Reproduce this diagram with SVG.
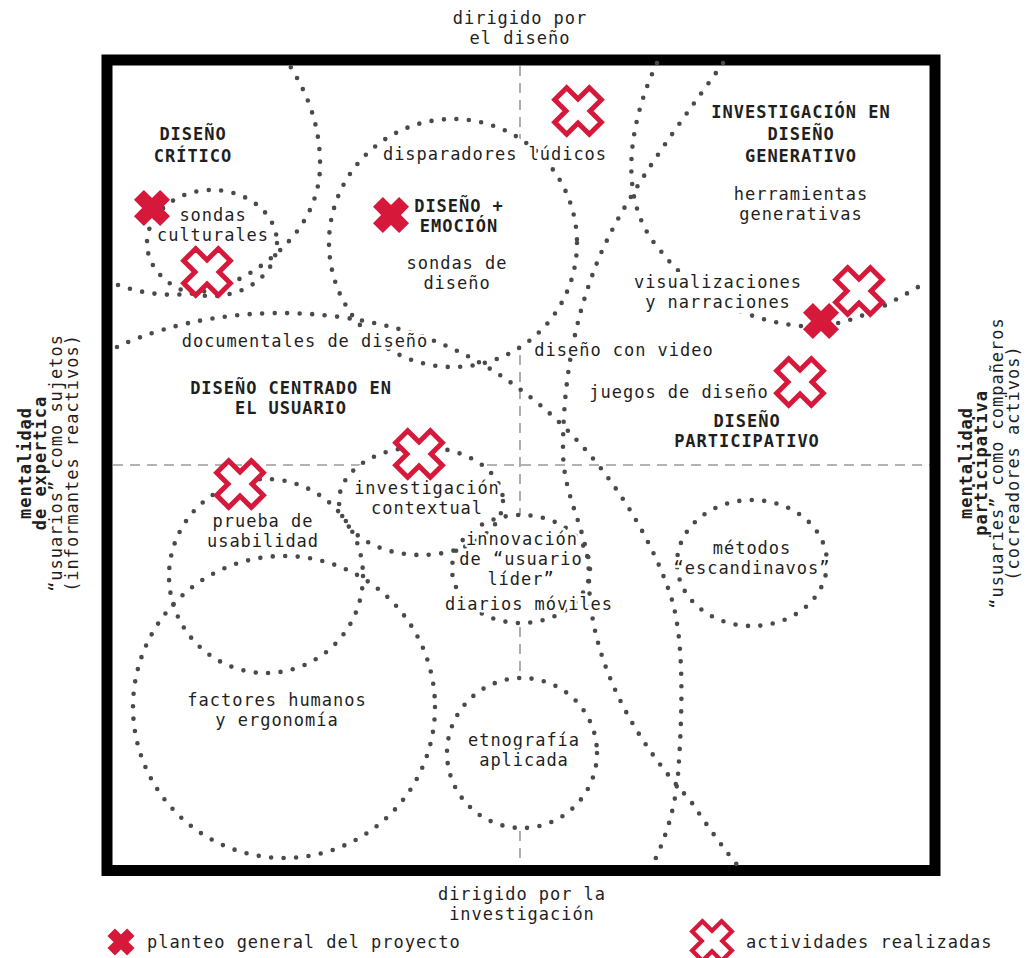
<svg xmlns="http://www.w3.org/2000/svg" width="1034" height="958" viewBox="0 0 1034 958">
<style>
text { font-family: "DejaVu Sans Mono", "Liberation Mono", monospace; font-size: 17px; letter-spacing: 0.97px; fill: #1f1f1f; text-anchor: middle; }
.b { font-weight: bold; }
.st { text-anchor: start; }
.h { paint-order: stroke; stroke: #fff; stroke-width: 5px; stroke-linejoin: round; }
.dot { fill: none; stroke: #4a4a4a; stroke-width: 4.6; stroke-linecap: round; stroke-dasharray: 0 12.5; }
.wf { fill: #fff; stroke: none; }
.axis { stroke: #9a9a9a; stroke-width: 1.6; stroke-dasharray: 10 7; fill: none; }
.xf { fill: #d6193b; }
.xo { fill: #fff; stroke: #d6193b; stroke-width: 5; }
</style>
<defs>
<path id="xs" class="xf" d="M-7,-18.5H7V-7H18.5V7H7V18.5H-7V7H-18.5V-7H-7Z" transform="rotate(45)"/>
<path id="xo" class="xo" d="M-8.5,-24.5H8.5V-8.5H24.5V8.5H8.5V24.5H-8.5V8.5H-24.5V-8.5H-8.5Z" transform="rotate(45)"/>
</defs>

<rect x="0" y="0" width="1034" height="958" fill="#fff"/>

<g id="axes">
<line class="axis" x1="520" y1="66" x2="520" y2="865"/>
<line class="axis" x1="113" y1="465" x2="930" y2="465"/>
</g>

<g id="circle-fills">
<ellipse class="wf" cx="212" cy="243" rx="65" ry="53"/>
<circle class="wf" cx="453" cy="243" r="124"/>
<ellipse class="wf" cx="421" cy="501" rx="82" ry="54"/>
<circle class="wf" cx="266" cy="576" r="97"/>
<circle class="wf" cx="284" cy="707" r="151"/>
<ellipse class="wf" cx="521" cy="569" rx="69" ry="54"/>
<circle class="wf" cx="522" cy="753" r="75"/>
<ellipse class="wf" cx="752" cy="563" rx="75" ry="63"/>
</g>

<rect id="frame" x="107" y="60" width="828" height="810.5" fill="none" stroke="#000" stroke-width="11"/>

<g id="connectors">
<path id="curve-critico" class="dot" d="M118,285 C160,300 205,298 245,276 C290,250 322,210 320,160 C319,120 305,90 290,66"/>
<path id="curve-documentales" class="dot" d="M117,347 C170,322 250,305 340,317 C420,328 480,355 540,405 C600,455 650,530 672,600 C685,645 682,720 678,775 C675,810 665,840 652,866"/>
<path id="curve-participativo" class="dot" d="M723,63 C690,110 620,200 595,268 C575,320 563,380 563,450 C563,500 589,530 589,578 C589,650 625,730 690,800 C710,830 725,850 738,866"/>
<path id="curve-generativo" class="dot" d="M657,63 C630,120 615,200 660,250 C690,290 740,320 800,326 C850,330 895,300 925,283"/>
</g>

<g id="n-top-label">
<text x="520" y="24">dirigido por</text>
<text x="520" y="44">el diseño</text>
</g>
<g id="n-bottom-label">
<text x="522" y="900">dirigido por la</text>
<text x="522" y="920">investigación</text>
</g>
<g id="n-left-label" transform="translate(0,463) rotate(-90)">
<text class="b" x="0" y="31">mentalidad</text>
<text class="b" x="0" y="46">de expertica</text>
<text x="0" y="62">“usuarios” como sujetos</text>
<text x="0" y="78">(informantes reactivos)</text>
</g>
<g id="n-right-label" transform="translate(0,463) rotate(-90)">
<text class="b" x="0" y="972">mentalidad</text>
<text class="b" x="0" y="987">participativa</text>
<text x="0" y="1003">“usuaries” como compañeros</text>
<text x="0" y="1019">(cocreadores activos)</text>
</g>

<g id="n-diseno-critico">
<text class="b h" x="193" y="140">DISEÑO</text>
<text class="b h" x="193" y="162">CRÍTICO</text>
</g>
<g id="n-sondas-culturales">
<ellipse class="dot" cx="212" cy="243" rx="65" ry="53"/>
<text class="h" x="213" y="221">sondas</text>
<text class="h" x="213" y="241">culturales</text>
</g>
<g id="n-diseno-emocion">
<circle class="dot" cx="453" cy="243" r="124"/>
<text class="b h" x="459" y="212">DISEÑO +</text>
<text class="b h" x="459" y="232">EMOCIÓN</text>
<text class="h" x="457" y="269">sondas de</text>
<text class="h" x="457" y="289">diseño</text>
</g>
<g id="n-disparadores">
<text class="h" x="495" y="160">disparadores lúdicos</text>
</g>
<g id="n-generativo">
<text class="b h" x="801" y="118">INVESTIGACIÓN EN</text>
<text class="b h" x="801" y="140">DISEÑO</text>
<text class="b h" x="801" y="162">GENERATIVO</text>
<text class="h" x="801" y="200">herramientas</text>
<text class="h" x="801" y="220">generativas</text>
</g>
<g id="n-visualizaciones">
<rect x="632" y="272" width="174" height="41" fill="#fff"/>
<text class="h" x="718" y="288">visualizaciones</text>
<text class="h" x="718" y="308">y narraciones</text>
</g>
<g id="n-documentales">
<text class="h" x="305" y="347">documentales de diseño</text>
</g>
<g id="n-video">
<text class="h" x="624" y="356">diseño con video</text>
</g>
<g id="n-dcu">
<text class="b h" x="291" y="394">DISEÑO CENTRADO EN</text>
<text class="b h" x="291" y="414">EL USUARIO</text>
</g>
<g id="n-juegos">
<text class="h" x="679" y="398">juegos de diseño</text>
</g>
<g id="n-participativo">
<text class="b h" x="747" y="427">DISEÑO</text>
<text class="b h" x="747" y="447">PARTICIPATIVO</text>
</g>
<g id="n-contextual">
<ellipse class="dot" cx="421" cy="501" rx="82" ry="54"/>
<text class="h" x="427" y="494">investigación</text>
<text class="h" x="427" y="514">contextual</text>
</g>
<g id="n-prueba">
<circle class="dot" cx="266" cy="576" r="97"/>
<text class="h" x="263" y="527">prueba de</text>
<text class="h" x="263" y="547">usabilidad</text>
</g>
<g id="n-innovacion">
<ellipse class="dot" cx="521" cy="569" rx="69" ry="54"/>
<text class="h" x="522" y="545">innovación</text>
<text class="h" x="521" y="565">de “usuario</text>
<text class="h" x="521" y="585">líder”</text>
<text class="h" x="529" y="610">diarios móviles</text>
</g>
<g id="n-escandinavos">
<ellipse class="dot" cx="752" cy="563" rx="75" ry="63"/>
<text class="h" x="752" y="554">métodos</text>
<text class="h" x="752" y="574">“escandinavos”</text>
</g>
<g id="n-factores">
<circle class="dot" cx="284" cy="707" r="151"/>
<text class="h" x="277" y="706">factores humanos</text>
<text class="h" x="277" y="726">y ergonomía</text>
</g>
<g id="n-etnografia">
<circle class="dot" cx="522" cy="753" r="75"/>
<text class="h" x="524" y="746">etnografía</text>
<text class="h" x="524" y="766">aplicada</text>
</g>

<g id="marks-planteo">
<use href="#xs" x="152" y="208"/>
<use href="#xs" x="391" y="215"/>
<use href="#xs" x="821" y="321"/>
</g>
<g id="marks-actividades">
<use href="#xo" x="578" y="111"/>
<use href="#xo" x="207" y="272"/>
<use href="#xo" x="859" y="291"/>
<use href="#xo" x="800" y="382"/>
<use href="#xo" x="419" y="454"/>
<use href="#xo" x="240" y="484"/>
</g>

<g id="legend-planteo">
<use href="#xs" transform="translate(121,942) scale(0.75)"/>
<text class="st" x="147" y="948">planteo general del proyecto</text>
</g>
<g id="legend-actividades">
<use href="#xo" transform="translate(712,941) scale(0.85)"/>
<text class="st" x="746" y="948">actividades realizadas</text>
</g>
</svg>
